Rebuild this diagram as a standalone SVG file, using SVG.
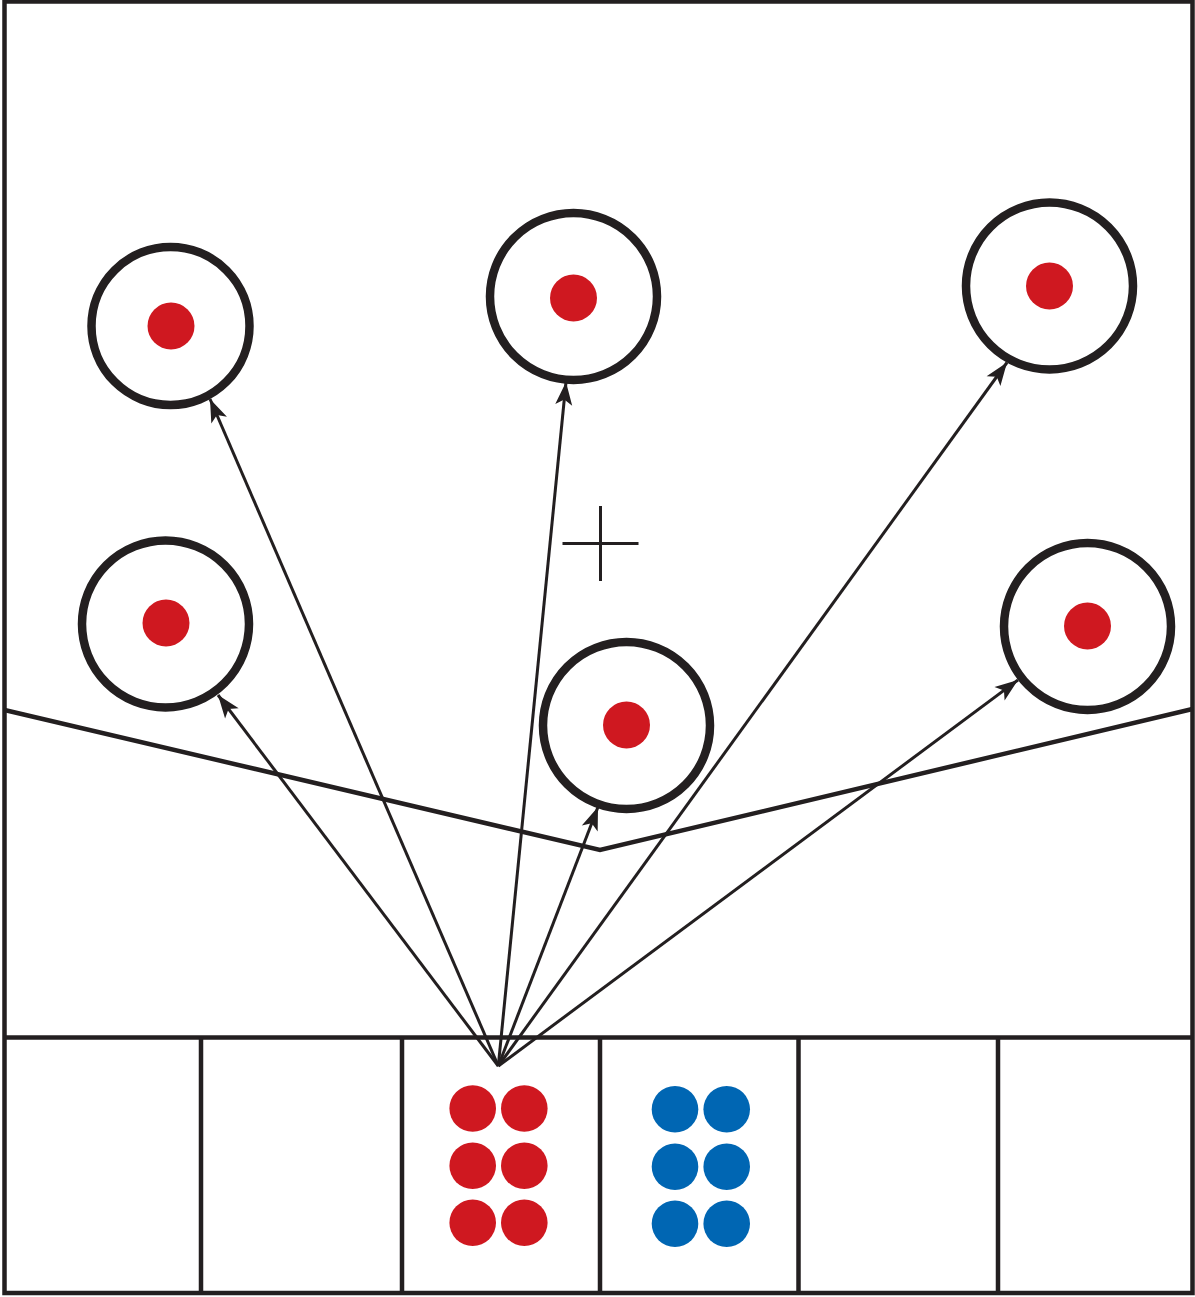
<svg xmlns="http://www.w3.org/2000/svg" width="1195" height="1297" viewBox="0 0 1195 1297">
  <style>
    .frame { fill: none; stroke: #231f20; stroke-width: 4.5; }
    .ring { fill: #ffffff; stroke: #231f20; stroke-width: 8.5; }
    .dot-red { fill: #cf1820; }
    .dot-blue { fill: #0066b3; }
    .ray { fill: none; stroke: #231f20; stroke-width: 3; marker-end: url(#arrow); }
    .mark { fill: none; stroke: #231f20; stroke-width: 3; }
  </style>
  <defs>
    <marker id="arrow" markerUnits="userSpaceOnUse" viewBox="-25 -10 27 20" refX="0" refY="0" markerWidth="27" markerHeight="20" orient="auto">
      <path d="M0,0 L-23,-8.5 L-17.5,0 L-23,8.5 Z" fill="#231f20"/>
    </marker>
  </defs>

  <!-- outer frame and floor strip -->
  <g id="frame">
    <rect class="frame" x="4.5" y="1.5" width="1188" height="1291.5"/>
    <line class="frame" x1="4.5" y1="1037.5" x2="1192.5" y2="1037.5"/>
    <line class="frame" x1="201" y1="1037.5" x2="201" y2="1293"/>
    <line class="frame" x1="402" y1="1037.5" x2="402" y2="1293"/>
    <line class="frame" x1="600" y1="1037.5" x2="600" y2="1293"/>
    <line class="frame" x1="798.5" y1="1037.5" x2="798.5" y2="1293"/>
    <line class="frame" x1="998" y1="1037.5" x2="998" y2="1293"/>
  </g>

  <!-- V-shaped boundary -->
  <g id="boundary">
    <polyline class="frame" points="4.5,710 600,850 1192.5,709"/>
  </g>

  <!-- centre mark -->
  <g id="cross">
    <line class="mark" x1="562.5" y1="543.5" x2="638.5" y2="543.5"/>
    <line class="mark" x1="600.5" y1="506" x2="600.5" y2="581"/>
  </g>

  <!-- targets -->
  <g id="target-1"><circle class="ring" cx="170.5" cy="326" r="79"/><circle class="dot-red" cx="171" cy="326" r="23.5"/></g>
  <g id="target-2"><circle class="ring" cx="573.5" cy="296.5" r="83.5"/><circle class="dot-red" cx="573.5" cy="298" r="23.5"/></g>
  <g id="target-3"><circle class="ring" cx="1049.5" cy="286" r="83.5"/><circle class="dot-red" cx="1049.5" cy="286" r="23.5"/></g>
  <g id="target-4"><circle class="ring" cx="165.5" cy="624" r="83.5"/><circle class="dot-red" cx="166" cy="623" r="23.5"/></g>
  <g id="target-5"><circle class="ring" cx="626.5" cy="725.5" r="83.5"/><circle class="dot-red" cx="626.5" cy="725" r="23.5"/></g>
  <g id="target-6"><circle class="ring" cx="1087.5" cy="626.5" r="83.5"/><circle class="dot-red" cx="1087.5" cy="626" r="23.5"/></g>

  <!-- source groups in the floor strip -->
  <g id="red-group">
    <circle class="dot-red" cx="472.7" cy="1108.5" r="23.3"/>
    <circle class="dot-red" cx="524.3" cy="1108.5" r="23.3"/>
    <circle class="dot-red" cx="472.7" cy="1165.7" r="23.3"/>
    <circle class="dot-red" cx="524.3" cy="1165.7" r="23.3"/>
    <circle class="dot-red" cx="472.7" cy="1222.7" r="23.3"/>
    <circle class="dot-red" cx="524.3" cy="1222.7" r="23.3"/>
  </g>
  <g id="blue-group">
    <circle class="dot-blue" cx="675" cy="1109.3" r="23.3"/>
    <circle class="dot-blue" cx="726.7" cy="1109.3" r="23.3"/>
    <circle class="dot-blue" cx="675" cy="1166.7" r="23.3"/>
    <circle class="dot-blue" cx="726.7" cy="1166.7" r="23.3"/>
    <circle class="dot-blue" cx="675" cy="1223.7" r="23.3"/>
    <circle class="dot-blue" cx="726.7" cy="1223.7" r="23.3"/>
  </g>

  <!-- rays from the source point to each target -->
  <g id="connectors">
    <line class="ray" x1="498.3" y1="1066" x2="210" y2="399"/>
    <line class="ray" x1="498.3" y1="1066" x2="566" y2="382"/>
    <line class="ray" x1="498.3" y1="1066" x2="1007" y2="362.5"/>
    <line class="ray" x1="498.3" y1="1066" x2="218" y2="695"/>
    <line class="ray" x1="498.3" y1="1066" x2="598" y2="807"/>
    <line class="ray" x1="498.3" y1="1066" x2="1018" y2="680"/>
  </g>
</svg>
